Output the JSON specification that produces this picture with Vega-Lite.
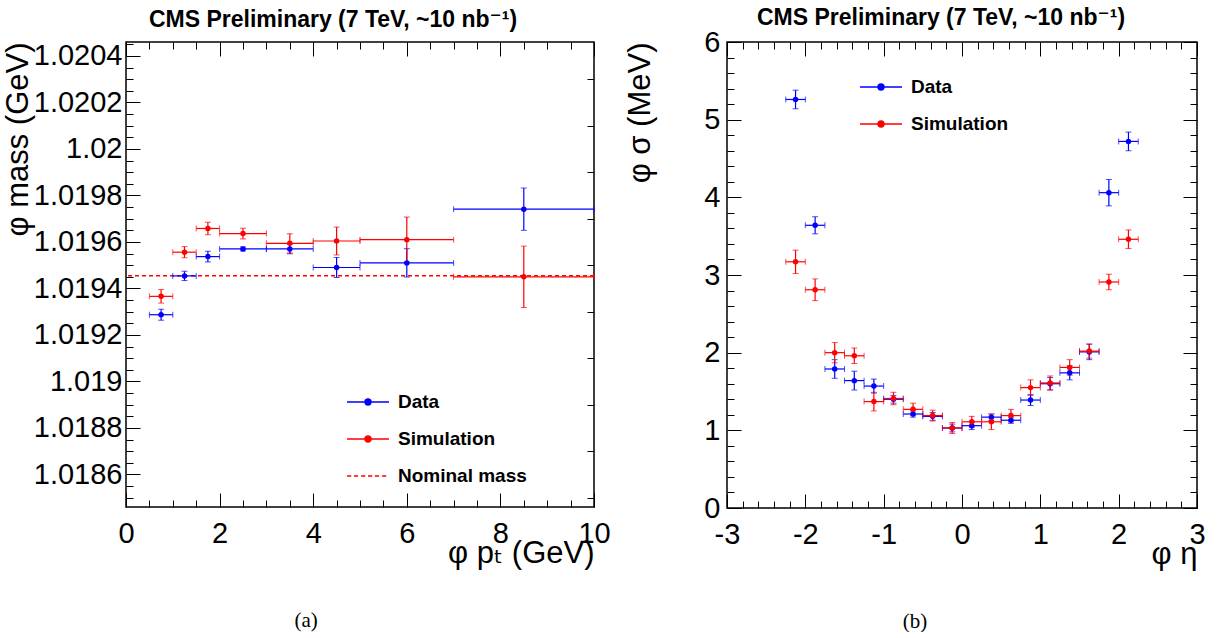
{
  "$schema": "https://vega.github.io/schema/vega-lite/v6.json",
  "background": "white",
  "padding": {"left": 1, "top": 6, "right": 0, "bottom": 0},
  "spacing": 13,
  "config": {
    "font": "Liberation Sans, DejaVu Sans",
    "view": {"stroke": "black", "strokeWidth": 1.5},
    "axis": {
      "domain": false, "grid": false, "tickColor": "black", "tickWidth": 1,
      "labelFont": "Liberation Sans, DejaVu Sans", "labelFontSize": 29, "labelColor": "black",
      "titleFont": "Liberation Sans, DejaVu Sans", "titleFontSize": 31, "titleFontWeight": "normal", "titleColor": "black",
      "labelOverlap": false, "labelFlush": false, "labelBound": false
    },
    "legend": {
      "title": null, "orient": "none", "padding": 0,
      "symbolSize": 1764, "symbolStrokeWidth": 1.5, "symbolOpacity": 1,
      "labelFont": "Liberation Sans", "labelFontSize": 19, "labelFontWeight": "bold", "labelColor": "black",
      "labelOffset": 8, "rowPadding": 5
    }
  },
  "resolve": {"scale": {"color": "independent", "fill": "independent", "stroke": "independent", "shape": "independent", "x": "independent", "y": "independent"}, "legend": {"fill": "independent", "stroke": "independent", "shape": "independent"}},
  "hconcat": [
    {
      "title": {"text": "(a)", "orient": "bottom", "anchor": "middle", "frame": "bounds", "font": "Liberation Serif", "fontSize": 21, "fontWeight": "normal", "offset": 41, "color": "black"},
      "vconcat": [
        {
          "width": 468, "height": 465,
          "title": {"text": "CMS Preliminary (7 TeV, ~10 nb⁻¹)", "font": "Liberation Sans, DejaVu Sans", "fontSize": 23, "fontWeight": "bold", "anchor": "middle", "frame": "group", "dx": -27, "offset": -2, "color": "black"},
          "resolve": {"scale": {"x": "independent", "y": "independent"}},
          "layer": [
            {
              "data": {"values": [{}]},
              "layer": [
                {
                  "mark": {"type": "rule", "color": "#ff0000", "strokeDash": [4, 3], "strokeWidth": 1.5},
                  "encoding": {
                    "y": {"datum": 1.019455, "type": "quantitative", "scale": {"domain": [1.01846, 1.02046], "nice": false, "zero": false},
                      "axis": {"orient": "right", "labels": false, "title": null,
                        "values": [1.0185,1.01855,1.0186,1.01865,1.0187,1.01875,1.0188,1.01885,1.0189,1.01895,1.019,1.01905,1.0191,1.01915,1.0192,1.01925,1.0193,1.01935,1.0194,1.01945,1.0195,1.01955,1.0196,1.01965,1.0197,1.01975,1.0198,1.01985,1.0199,1.01995,1.02,1.02005,1.0201,1.02015,1.0202,1.02025,1.0203,1.02035,1.0204,1.02045],
                        "tickSize": {"condition": {"test": "abs(datum.value*5000 - round(datum.value*5000)) < 0.01", "value": -14}, "value": -7}}}
                  }
                },
                {
                  "mark": {"type": "point", "opacity": 0},
                  "encoding": {
                    "x": {"datum": 5, "type": "quantitative", "scale": {"domain": [0, 10], "nice": false, "zero": false},
                      "axis": {"orient": "top", "labels": false, "title": null,
                        "values": [0,0.5,1,1.5,2,2.5,3,3.5,4,4.5,5,5.5,6,6.5,7,7.5,8,8.5,9,9.5,10],
                        "tickSize": {"condition": {"test": "datum.value % 2 === 0", "value": -14}, "value": -7}}},
                    "y": {"datum": 1.0195, "type": "quantitative"}
                  }
                }
              ]
            },
            {
              "data": {"values": [{"s": "Data"}, {"s": "Simulation"}, {"s": "Nominal mass"}]},
              "mark": {"type": "point", "opacity": 0, "filled": true},
              "encoding": {
                "fill": {"field": "s", "type": "nominal",
                  "scale": {"domain": ["Data", "Simulation", "Nominal mass"], "range": ["#0000ff", "#ff0000", "transparent"]},
                  "legend": {"legendX": 220, "legendY": 338}},
                "stroke": {"field": "s", "type": "nominal",
                  "scale": {"domain": ["Data", "Simulation", "Nominal mass"], "range": ["#0000ff", "#ff0000", "#ff0000"]},
                  "legend": {"legendX": 220, "legendY": 338}},
                "shape": {"field": "s", "type": "nominal",
                  "scale": {"domain": ["Data", "Simulation", "Nominal mass"], "range": [
                    "M-1,0L1,0M-0.14,0A0.14,0.14,0,1,1,0.14,0A0.14,0.14,0,1,1,-0.14,0Z",
                    "M-1,0L1,0M-0.14,0A0.14,0.14,0,1,1,0.14,0A0.14,0.14,0,1,1,-0.14,0Z",
                    "M-1,0L-0.8,0M-0.67,0L-0.47,0M-0.33,0L-0.13,0M0,0L0.2,0M0.33,0L0.53,0M0.67,0L0.87,0"]},
                  "legend": {"legendX": 220, "legendY": 338}}
              }
            },
            {
              "data": {"values": [
                {"s": "Data", "x": 0.75, "xe": 0.25, "y": 1.019287, "ye": 0.0000236},
                {"s": "Data", "x": 1.25, "xe": 0.25, "y": 1.019454, "ye": 0.00002},
                {"s": "Data", "x": 1.75, "xe": 0.25, "y": 1.019537, "ye": 0.000023},
                {"s": "Data", "x": 2.5, "xe": 0.5, "y": 1.01957, "ye": 0.0000086},
                {"s": "Data", "x": 3.5, "xe": 0.5, "y": 1.01957, "ye": 0.000021},
                {"s": "Data", "x": 4.5, "xe": 0.5, "y": 1.01949, "ye": 0.000043},
                {"s": "Data", "x": 6, "xe": 1, "y": 1.01951, "ye": 0.000061},
                {"s": "Data", "x": 8.5, "xe": 1.5, "y": 1.019741, "ye": 0.000091},
                {"s": "Simulation", "x": 0.75, "xe": 0.25, "y": 1.019366, "ye": 0.000029},
                {"s": "Simulation", "x": 1.25, "xe": 0.25, "y": 1.019556, "ye": 0.000024},
                {"s": "Simulation", "x": 1.75, "xe": 0.25, "y": 1.019658, "ye": 0.000027},
                {"s": "Simulation", "x": 2.5, "xe": 0.5, "y": 1.019636, "ye": 0.000023},
                {"s": "Simulation", "x": 3.5, "xe": 0.5, "y": 1.019594, "ye": 0.000041},
                {"s": "Simulation", "x": 4.5, "xe": 0.5, "y": 1.019604, "ye": 0.00006},
                {"s": "Simulation", "x": 6, "xe": 1, "y": 1.01961, "ye": 0.000097},
                {"s": "Simulation", "x": 8.5, "xe": 1.5, "y": 1.01945, "ye": 0.000132}
              ]},
              "encoding": {
                "x": {"field": "x", "type": "quantitative", "scale": {"domain": [0, 10], "nice": false, "zero": false},
                  "axis": {"orient": "bottom",
                    "values": [0,0.5,1,1.5,2,2.5,3,3.5,4,4.5,5,5.5,6,6.5,7,7.5,8,8.5,9,9.5,10],
                    "labelExpr": "datum.value % 2 === 0 ? format(datum.value, 'd') : ''",
                    "tickSize": {"condition": {"test": "datum.value % 2 === 0", "value": -14}, "value": -7},
                    "labelPadding": 26, "title": "φ pₜ (GeV)", "titleAnchor": "end", "titlePadding": -17}},
                "y": {"field": "y", "type": "quantitative", "scale": {"domain": [1.01846, 1.02046], "nice": false, "zero": false},
                  "axis": {"orient": "left",
                    "values": [1.0185,1.01855,1.0186,1.01865,1.0187,1.01875,1.0188,1.01885,1.0189,1.01895,1.019,1.01905,1.0191,1.01915,1.0192,1.01925,1.0193,1.01935,1.0194,1.01945,1.0195,1.01955,1.0196,1.01965,1.0197,1.01975,1.0198,1.01985,1.0199,1.01995,1.02,1.02005,1.0201,1.02015,1.0202,1.02025,1.0203,1.02035,1.0204,1.02045],
                    "labelExpr": "abs(datum.value*5000 - round(datum.value*5000)) < 0.01 ? replace(format(datum.value, '.4f'), regexp('[.]?0+$'), '') : ''",
                    "tickSize": {"condition": {"test": "abs(datum.value*5000 - round(datum.value*5000)) < 0.01", "value": -14}, "value": -7},
                    "labelPadding": 18, "title": "φ mass (GeV)", "titleAnchor": "end", "titlePadding": -1}},
                "color": {"field": "s", "type": "nominal", "scale": {"domain": ["Data", "Simulation"], "range": ["#0000ff", "#ff0000"]}, "legend": null}
              },
              "layer": [
                {"mark": {"type": "errorbar", "ticks": {"size": 6}, "rule": {"strokeWidth": 1.2}}, "encoding": {"xError": {"field": "xe"}}},
                {"mark": {"type": "errorbar", "ticks": {"size": 6}, "rule": {"strokeWidth": 1.2}}, "encoding": {"yError": {"field": "ye"}}},
                {"mark": {"type": "point", "filled": true, "size": 30, "opacity": 1}}
              ]
            }
          ]
        }
      ]
    },
    {
      "title": {"text": "(b)", "orient": "bottom", "anchor": "middle", "frame": "bounds", "font": "Liberation Serif", "fontSize": 21, "fontWeight": "normal", "offset": 41, "color": "black"},
      "vconcat": [
        {
          "width": 470, "height": 466,
          "title": {"text": "CMS Preliminary (7 TeV, ~10 nb⁻¹)", "font": "Liberation Sans, DejaVu Sans", "fontSize": 23, "fontWeight": "bold", "anchor": "middle", "frame": "group", "dx": -21, "offset": -2, "color": "black"},
          "resolve": {"scale": {"x": "independent", "y": "independent"}},
          "layer": [
            {
              "data": {"values": [{}]},
              "mark": {"type": "point", "opacity": 0},
              "encoding": {
                "x": {"datum": 0, "type": "quantitative", "scale": {"domain": [-3, 3], "nice": false, "zero": false},
                  "axis": {"orient": "top", "labels": false, "title": null,
                    "values": [-3,-2.8,-2.6,-2.4,-2.2,-2,-1.8,-1.6,-1.4,-1.2,-1,-0.8,-0.6,-0.4,-0.2,0,0.2,0.4,0.6,0.8,1,1.2,1.4,1.6,1.8,2,2.2,2.4,2.6,2.8,3],
                    "tickSize": {"condition": {"test": "abs(datum.value - round(datum.value)) < 0.01", "value": -14}, "value": -7}}},
                "y": {"datum": 3, "type": "quantitative", "scale": {"domain": [0, 6], "nice": false, "zero": false},
                  "axis": {"orient": "right", "labels": false, "title": null,
                    "values": [0,0.2,0.4,0.6,0.8,1,1.2,1.4,1.6,1.8,2,2.2,2.4,2.6,2.8,3,3.2,3.4,3.6,3.8,4,4.2,4.4,4.6,4.8,5,5.2,5.4,5.6,5.8,6],
                    "tickSize": {"condition": {"test": "abs(datum.value - round(datum.value)) < 0.01", "value": -14}, "value": -7}}}
              }
            },
            {
              "data": {"values": [{"s": "Data"}, {"s": "Simulation"}]},
              "mark": {"type": "point", "opacity": 0, "filled": true},
              "encoding": {
                "fill": {"field": "s", "type": "nominal",
                  "scale": {"domain": ["Data", "Simulation"], "range": ["#0000ff", "#ff0000"]},
                  "legend": {"legendX": 132, "legendY": 23, "symbolType": "M-1,0L1,0M-0.14,0A0.14,0.14,0,1,1,0.14,0A0.14,0.14,0,1,1,-0.14,0Z"}},
                "stroke": {"field": "s", "type": "nominal",
                  "scale": {"domain": ["Data", "Simulation"], "range": ["#0000ff", "#ff0000"]},
                  "legend": {"legendX": 132, "legendY": 23, "symbolType": "M-1,0L1,0M-0.14,0A0.14,0.14,0,1,1,0.14,0A0.14,0.14,0,1,1,-0.14,0Z"}}
              }
            },
            {
              "data": {"values": [
                {"s": "Data", "x": -2.125, "xe": 0.125, "y": 5.26, "ye": 0.12},
                {"s": "Data", "x": -1.875, "xe": 0.125, "y": 3.64, "ye": 0.11},
                {"s": "Data", "x": -1.625, "xe": 0.125, "y": 1.79, "ye": 0.12},
                {"s": "Data", "x": -1.375, "xe": 0.125, "y": 1.64, "ye": 0.12},
                {"s": "Data", "x": -1.125, "xe": 0.125, "y": 1.57, "ye": 0.09},
                {"s": "Data", "x": -0.875, "xe": 0.125, "y": 1.40, "ye": 0.05},
                {"s": "Data", "x": -0.625, "xe": 0.125, "y": 1.21, "ye": 0.04},
                {"s": "Data", "x": -0.375, "xe": 0.125, "y": 1.18, "ye": 0.05},
                {"s": "Data", "x": -0.125, "xe": 0.125, "y": 1.03, "ye": 0.05},
                {"s": "Data", "x": 0.125, "xe": 0.125, "y": 1.06, "ye": 0.05},
                {"s": "Data", "x": 0.375, "xe": 0.125, "y": 1.17, "ye": 0.04},
                {"s": "Data", "x": 0.625, "xe": 0.125, "y": 1.13, "ye": 0.04},
                {"s": "Data", "x": 0.875, "xe": 0.125, "y": 1.39, "ye": 0.07},
                {"s": "Data", "x": 1.125, "xe": 0.125, "y": 1.60, "ye": 0.08},
                {"s": "Data", "x": 1.375, "xe": 0.125, "y": 1.74, "ye": 0.09},
                {"s": "Data", "x": 1.625, "xe": 0.125, "y": 2.01, "ye": 0.10},
                {"s": "Data", "x": 1.875, "xe": 0.125, "y": 4.06, "ye": 0.17},
                {"s": "Data", "x": 2.125, "xe": 0.125, "y": 4.72, "ye": 0.12},
                {"s": "Simulation", "x": -2.125, "xe": 0.125, "y": 3.17, "ye": 0.15},
                {"s": "Simulation", "x": -1.875, "xe": 0.125, "y": 2.81, "ye": 0.14},
                {"s": "Simulation", "x": -1.625, "xe": 0.125, "y": 2.00, "ye": 0.13},
                {"s": "Simulation", "x": -1.375, "xe": 0.125, "y": 1.96, "ye": 0.10},
                {"s": "Simulation", "x": -1.125, "xe": 0.125, "y": 1.37, "ye": 0.12},
                {"s": "Simulation", "x": -0.875, "xe": 0.125, "y": 1.41, "ye": 0.08},
                {"s": "Simulation", "x": -0.625, "xe": 0.125, "y": 1.27, "ye": 0.08},
                {"s": "Simulation", "x": -0.375, "xe": 0.125, "y": 1.19, "ye": 0.07},
                {"s": "Simulation", "x": -0.125, "xe": 0.125, "y": 1.03, "ye": 0.07},
                {"s": "Simulation", "x": 0.125, "xe": 0.125, "y": 1.11, "ye": 0.07},
                {"s": "Simulation", "x": 0.375, "xe": 0.125, "y": 1.11, "ye": 0.10},
                {"s": "Simulation", "x": 0.625, "xe": 0.125, "y": 1.19, "ye": 0.08},
                {"s": "Simulation", "x": 0.875, "xe": 0.125, "y": 1.55, "ye": 0.10},
                {"s": "Simulation", "x": 1.125, "xe": 0.125, "y": 1.61, "ye": 0.09},
                {"s": "Simulation", "x": 1.375, "xe": 0.125, "y": 1.81, "ye": 0.10},
                {"s": "Simulation", "x": 1.625, "xe": 0.125, "y": 2.02, "ye": 0.09},
                {"s": "Simulation", "x": 1.875, "xe": 0.125, "y": 2.91, "ye": 0.10},
                {"s": "Simulation", "x": 2.125, "xe": 0.125, "y": 3.46, "ye": 0.12}
              ]},
              "encoding": {
                "x": {"field": "x", "type": "quantitative", "scale": {"domain": [-3, 3], "nice": false, "zero": false},
                  "axis": {"orient": "bottom",
                    "values": [-3,-2.8,-2.6,-2.4,-2.2,-2,-1.8,-1.6,-1.4,-1.2,-1,-0.8,-0.6,-0.4,-0.2,0,0.2,0.4,0.6,0.8,1,1.2,1.4,1.6,1.8,2,2.2,2.4,2.6,2.8,3],
                    "labelExpr": "abs(datum.value - round(datum.value)) < 0.01 ? '' + round(datum.value) : ''",
                    "tickSize": {"condition": {"test": "abs(datum.value - round(datum.value)) < 0.01", "value": -14}, "value": -7},
                    "labelPadding": 26, "title": "φ η", "titleAnchor": "end", "titlePadding": -17}},
                "y": {"field": "y", "type": "quantitative", "scale": {"domain": [0, 6], "nice": false, "zero": false},
                  "axis": {"orient": "left",
                    "values": [0,0.2,0.4,0.6,0.8,1,1.2,1.4,1.6,1.8,2,2.2,2.4,2.6,2.8,3,3.2,3.4,3.6,3.8,4,4.2,4.4,4.6,4.8,5,5.2,5.4,5.6,5.8,6],
                    "labelExpr": "abs(datum.value - round(datum.value)) < 0.01 ? '' + round(datum.value) : ''",
                    "tickSize": {"condition": {"test": "abs(datum.value - round(datum.value)) < 0.01", "value": -14}, "value": -7},
                    "labelPadding": 21, "title": "φ σ (MeV)", "titleAnchor": "end", "titlePadding": 47}},
                "color": {"field": "s", "type": "nominal", "scale": {"domain": ["Data", "Simulation"], "range": ["#0000ff", "#ff0000"]}, "legend": null}
              },
              "layer": [
                {"mark": {"type": "errorbar", "ticks": {"size": 6}, "rule": {"strokeWidth": 1.2}}, "encoding": {"xError": {"field": "xe"}}},
                {"mark": {"type": "errorbar", "ticks": {"size": 6}, "rule": {"strokeWidth": 1.2}}, "encoding": {"yError": {"field": "ye"}}},
                {"mark": {"type": "point", "filled": true, "size": 30, "opacity": 1}}
              ]
            }
          ]
        }
      ]
    }
  ]
}
